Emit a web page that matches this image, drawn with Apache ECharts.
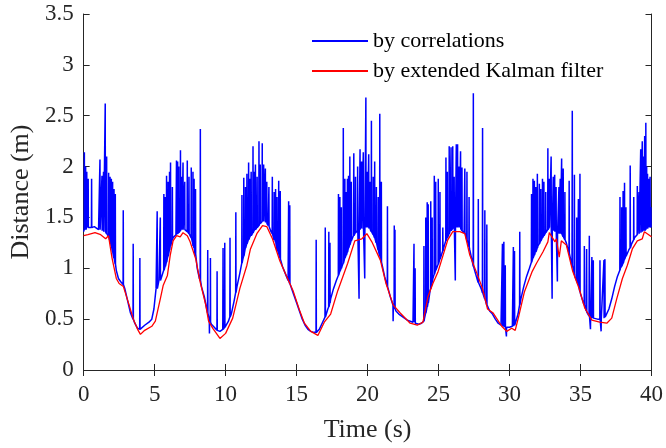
<!DOCTYPE html>
<html><head><meta charset="utf-8">
<script src="https://cdn.jsdelivr.net/npm/echarts@6/dist/echarts.min.js"></script>
<style>html,body{margin:0;padding:0;background:#fff}#c{width:666px;height:448px}</style>
</head><body><div id="c"></div>
<script>
const xTicks = [0,5,10,15,20,25,30,35,40];
const yTicks = [0,0.5,1,1.5,2,2.5,3,3.5];
const seriesNames = ['by correlations','by extended Kalman filter'];

// Kalman filter estimate [t, distance]
const redKF = [[0,1.32],[0.3,1.33],[0.8,1.35],[1.2,1.33],[1.55,1.29],[1.75,1.32],[2.0,1.10],[2.3,0.90],[2.5,0.85],[2.8,0.82],[3.2,0.64],[3.5,0.50],[3.8,0.40],[4.0,0.35],[4.3,0.39],[4.8,0.43],[5.05,0.48],[5.4,0.70],[5.6,0.83],[5.9,0.93],[6.1,1.13],[6.3,1.27],[6.55,1.32],[6.8,1.31],[7.0,1.35],[7.3,1.32],[7.5,1.26],[7.9,1.09],[8.2,0.87],[8.6,0.64],[8.8,0.48],[9.1,0.41],[9.6,0.31],[10.0,0.36],[10.5,0.51],[11.0,0.80],[11.5,1.03],[11.75,1.19],[12.2,1.34],[12.6,1.42],[12.9,1.41],[13.3,1.29],[13.8,1.08],[14.3,0.92],[14.75,0.78],[15.2,0.59],[15.55,0.46],[16.0,0.38],[16.5,0.34],[16.95,0.47],[17.4,0.55],[17.9,0.78],[18.6,1.05],[19.1,1.27],[19.6,1.29],[19.95,1.34],[20.3,1.26],[20.9,1.08],[21.3,0.85],[21.8,0.64],[22.3,0.56],[23.0,0.46],[23.5,0.44],[23.9,0.47],[24.25,0.72],[24.6,0.85],[24.95,0.96],[25.3,1.12],[25.65,1.28],[26.0,1.36],[26.5,1.36],[26.85,1.34],[27.2,1.13],[27.7,0.95],[28.1,0.80],[28.45,0.60],[28.85,0.56],[29.45,0.43],[29.8,0.38],[30.15,0.41],[30.4,0.39],[30.65,0.53],[31.05,0.77],[31.6,0.97],[31.9,1.05],[32.35,1.16],[32.7,1.26],[32.8,1.35],[33.2,1.26],[33.3,1.29],[33.5,1.11],[33.65,1.27],[34.0,1.23],[34.45,0.97],[34.9,0.80],[35.3,0.61],[35.8,0.49],[36.35,0.47],[36.85,0.46],[37.2,0.51],[37.55,0.70],[37.95,0.90],[38.3,1.03],[38.65,1.19],[39.0,1.27],[39.35,1.29],[39.5,1.36],[40.0,1.31]];

// Correlation estimate: underlying level [t, distance]
const blueBase = [[0,1.36],[0.4,1.40],[0.75,1.41],[1.05,1.38],[1.45,1.36],[1.7,1.33],[1.9,1.25],[2.1,1.12],[2.3,0.98],[2.45,0.90],[2.6,0.87],[2.9,0.80],[3.1,0.68],[3.3,0.56],[3.6,0.46],[3.8,0.41],[4.1,0.41],[4.3,0.44],[4.6,0.47],[4.8,0.50],[4.95,0.60],[5.1,0.80],[5.3,0.88],[5.5,0.92],[5.7,1.00],[5.9,1.10],[6.1,1.22],[6.3,1.30],[6.5,1.33],[6.7,1.36],[6.9,1.38],[7.1,1.38],[7.3,1.36],[7.5,1.32],[7.7,1.22],[7.85,1.12],[8.0,1.00],[8.15,0.90],[8.3,0.82],[8.5,0.72],[8.7,0.58],[8.85,0.48],[9.0,0.45],[9.2,0.42],[9.4,0.39],[9.6,0.38],[9.8,0.40],[10.0,0.43],[10.2,0.48],[10.4,0.55],[10.6,0.68],[10.8,0.82],[11.0,0.95],[11.2,1.08],[11.4,1.20],[11.6,1.28],[11.8,1.32],[12.0,1.37],[12.2,1.40],[12.4,1.44],[12.6,1.46],[12.8,1.45],[13.0,1.42],[13.2,1.36],[13.4,1.28],[13.6,1.18],[13.8,1.10],[14.0,1.02],[14.2,0.95],[14.4,0.88],[14.6,0.82],[14.8,0.74],[15.0,0.66],[15.2,0.58],[15.4,0.50],[15.6,0.44],[15.8,0.40],[16.0,0.38],[16.2,0.37],[16.4,0.38],[16.6,0.40],[16.8,0.46],[17.0,0.52],[17.2,0.60],[17.4,0.70],[17.6,0.80],[17.8,0.88],[18.0,0.95],[18.2,1.02],[18.4,1.10],[18.6,1.17],[18.8,1.25],[19.0,1.32],[19.2,1.36],[19.4,1.38],[19.6,1.40],[19.8,1.40],[20.0,1.40],[20.2,1.38],[20.4,1.33],[20.6,1.25],[20.8,1.15],[21.0,1.05],[21.2,0.92],[21.4,0.82],[21.6,0.72],[21.8,0.64],[22.0,0.58],[22.2,0.55],[22.4,0.53],[22.6,0.51],[22.8,0.49],[23.0,0.48],[23.2,0.47],[23.4,0.46],[23.6,0.45],[23.8,0.46],[24.0,0.50],[24.2,0.62],[24.4,0.78],[24.6,0.90],[24.8,0.98],[25.0,1.05],[25.2,1.13],[25.4,1.22],[25.6,1.30],[25.8,1.36],[26.0,1.39],[26.2,1.40],[26.4,1.40],[26.6,1.38],[26.8,1.35],[27.0,1.28],[27.2,1.18],[27.4,1.05],[27.6,0.95],[27.8,0.86],[28.0,0.80],[28.2,0.72],[28.4,0.64],[28.6,0.58],[28.8,0.55],[29.0,0.50],[29.2,0.46],[29.4,0.44],[29.6,0.42],[29.8,0.42],[30.0,0.42],[30.2,0.43],[30.4,0.45],[30.6,0.55],[30.8,0.70],[31.0,0.82],[31.2,0.92],[31.4,1.00],[31.6,1.08],[31.8,1.15],[32.0,1.22],[32.2,1.27],[32.4,1.32],[32.6,1.36],[32.8,1.40],[33.0,1.38],[33.2,1.36],[33.4,1.34],[33.6,1.34],[33.8,1.30],[34.0,1.25],[34.2,1.15],[34.4,1.02],[34.6,0.92],[34.8,0.85],[35.0,0.75],[35.2,0.66],[35.4,0.58],[35.6,0.53],[35.8,0.51],[36.0,0.50],[36.2,0.50],[36.4,0.50],[36.6,0.51],[36.8,0.54],[37.0,0.60],[37.2,0.70],[37.4,0.82],[37.6,0.92],[37.8,1.00],[38.0,1.06],[38.2,1.12],[38.4,1.18],[38.6,1.24],[38.8,1.30],[39.0,1.33],[39.2,1.35],[39.4,1.37],[39.6,1.39],[39.8,1.40],[40.0,1.40]];

// Correlation outliers: [t, spike value, level at spike foot]
const blueSpikes = [[0.05,2.14,1.38],[0.14,2.00,1.38],[0.22,1.95,1.40],[0.32,1.88,1.40],[0.56,1.88,1.40],[1.15,2.07,1.38],[1.29,1.91,1.37],[1.40,1.95,1.36],[1.52,2.62,1.36],[1.62,2.10,1.34],[1.76,1.94,1.31],[1.86,1.90,1.27],[1.95,1.88,1.22],[2.04,1.85,1.16],[2.14,1.78,1.10],[2.23,1.73,1.04],[2.79,1.57,0.84],[3.49,1.24,0.50],[3.96,1.10,0.40],
[5.18,1.56,0.80],[5.40,1.50,0.88],[5.65,1.73,0.98],[5.75,1.70,1.02],[5.84,1.91,1.06],[5.95,1.85,1.12],[6.05,1.95,1.18],[6.12,2.04,1.22],[6.25,1.80,1.28],[6.54,2.06,1.33],[6.62,2.05,1.34],[6.70,2.00,1.35],[6.82,2.16,1.37],[6.92,1.90,1.38],[7.00,2.04,1.38],[7.12,1.85,1.38],[7.30,2.06,1.36],[7.42,1.90,1.34],[7.58,1.99,1.30],[7.70,1.95,1.24],[7.78,1.88,1.20],[7.88,1.78,1.14],[8.22,2.37,0.88],[8.74,1.18,0.56],[8.86,0.36,0.50],[8.93,1.10,0.47],[9.40,0.97,0.39],[9.82,1.20,0.40],[9.94,1.25,0.42],[10.31,1.30,0.52],[10.72,1.55,0.76],[11.15,1.72,1.05],[11.28,1.89,1.12],[11.40,1.80,1.20],[11.50,1.93,1.24],[11.62,2.04,1.28],[11.72,1.88,1.31],[11.80,1.95,1.32],[11.93,2.20,1.35],[12.02,1.95,1.37],[12.10,2.02,1.38],[12.22,1.90,1.40],[12.35,2.25,1.42],[12.44,2.02,1.44],[12.58,2.23,1.46],[12.68,2.02,1.46],[12.80,1.98,1.45],[12.90,1.85,1.44],[13.05,1.80,1.41],[13.29,1.90,1.34],[13.42,1.75,1.30],[13.52,1.78,1.26],[13.62,1.70,1.20],[13.74,1.86,1.14],[13.85,1.76,1.09],[14.44,1.66,0.88],[14.52,1.62,0.85],
[16.38,1.28,0.37],[17.02,1.40,0.52],[17.27,1.36,0.62],[17.35,1.25,0.66],[17.95,1.73,0.93],[18.05,1.70,0.97],[18.15,1.60,1.00],[18.29,2.38,1.05],[18.40,1.88,1.10],[18.50,1.75,1.13],[18.58,1.88,1.16],[18.66,1.91,1.20],[18.75,2.10,1.23],[18.85,1.85,1.27],[19.03,2.13,1.32],[19.15,1.90,1.35],[19.30,2.00,1.37],[19.40,0.70,1.38],[19.47,2.17,1.38],[19.58,2.05,1.39],[19.70,2.14,1.40],[19.80,0.90,1.40],[19.88,2.68,1.40],[19.98,1.95,1.40],[20.08,2.12,1.39],[20.18,1.85,1.38],[20.27,2.45,1.36],[20.40,1.90,1.33],[20.50,2.05,1.30],[20.62,1.80,1.25],[20.75,1.70,1.18],[20.86,2.52,1.12],[20.97,1.85,1.06],[21.40,1.61,0.82],[21.80,0.48,0.64],[21.88,1.42,0.62],[21.93,1.38,0.60],
[23.27,1.24,0.47],[23.35,1.00,0.46],[23.97,1.22,0.48],[24.10,1.50,0.56],[24.20,1.65,0.62],[24.27,1.63,0.66],[24.45,1.66,0.80],[24.55,1.50,0.86],[24.70,1.91,0.94],[24.80,1.85,0.98],[24.98,1.88,1.04],[25.10,1.75,1.09],[25.30,1.40,1.17],[25.52,2.09,1.27],[25.62,1.95,1.30],[25.75,2.20,1.34],[25.88,2.19,1.37],[26.00,2.20,1.39],[26.10,1.90,1.40],[26.18,0.88,1.40],[26.25,2.22,1.40],[26.34,2.22,1.40],[26.45,2.00,1.40],[26.55,2.15,1.39],[26.65,1.99,1.37],[26.85,1.98,1.35],[27.00,1.95,1.28],[27.15,1.70,1.21],[27.45,2.72,1.02],[27.80,1.68,0.86],[28.10,2.38,0.76],[28.26,1.57,0.70],[28.40,1.43,0.64],
[29.50,1.24,0.43],[29.60,1.26,0.42],[29.70,1.03,0.42],[29.78,0.33,0.42],[30.27,1.21,0.43],[30.35,1.17,0.44],[30.72,1.36,0.64],
[31.55,1.73,1.06],[31.65,1.88,1.10],[31.75,1.86,1.13],[31.85,1.80,1.16],[31.96,1.93,1.20],[32.10,1.83,1.24],[32.20,1.78,1.27],[32.32,1.88,1.30],[32.42,1.85,1.32],[32.55,1.75,1.35],[32.70,2.18,1.38],[32.80,1.88,1.40],[32.93,2.10,1.39],[33.00,0.70,1.38],[33.08,1.90,1.37],[33.18,1.92,1.36],[33.28,1.80,1.35],[33.37,0.87,1.34],[33.48,1.80,1.34],[33.57,1.88,1.34],[33.67,2.08,1.34],[33.78,1.98,1.31],[33.90,1.75,1.28],[34.20,1.86,1.15],[34.42,2.55,1.03],[34.57,1.92,0.94],[34.73,1.50,0.88],[34.85,1.68,0.84],[34.96,1.93,0.77],
[35.27,1.22,0.64],[35.43,1.19,0.57],[35.62,1.32,0.53],[35.70,0.40,0.52],[35.80,1.11,0.51],[35.90,1.08,0.51],[36.37,1.08,0.50],[36.45,0.38,0.50],[36.65,1.08,0.51],[36.72,1.09,0.52],
[37.78,1.70,0.98],[37.90,1.60,1.02],[38.00,1.76,1.05],[38.10,1.84,1.09],[38.20,1.60,1.12],[38.50,2.01,1.20],[38.75,1.70,1.28],[39.00,1.81,1.33],[39.12,1.75,1.34],[39.24,2.17,1.35],[39.35,2.25,1.36],[39.45,2.10,1.37],[39.52,2.30,1.37],[39.60,2.43,1.38],[39.66,2.00,1.39],[39.72,1.93,1.39],[39.82,1.88,1.40],[39.90,1.90,1.40],[39.96,1.60,1.40]];

// combine level points and outlier samples in time order
const bluePts = blueBase.map(p => [p[0], p[1]]);
blueSpikes.forEach(s => {
  bluePts.push([s[0] - 0.012, s[2]]);
  bluePts.push([s[0], s[1]]);
  bluePts.push([s[0] + 0.012, s[2]]);
});
bluePts.sort((a, b) => a[0] - b[0]);

const FONT = '"Liberation Serif","Times New Roman",serif';
const AX = '#262626';
const chart = echarts.init(document.getElementById('c'), null, {renderer: 'canvas'});
const baseAxisX = {
  type: 'value', min: 0, max: 40, interval: 5,
  axisLine: {show: true, lineStyle: {color: AX, width: 1}},
  axisTick: {show: true, inside: true, length: 6, lineStyle: {color: AX}},
  splitLine: {show: false}
};
const baseAxisY = {
  type: 'value', min: 0, max: 3.5, interval: 0.5,
  axisLine: {show: true, onZero: false, lineStyle: {color: AX, width: 1}},
  axisTick: {show: true, inside: true, length: 6, lineStyle: {color: AX}},
  splitLine: {show: false}
};
chart.setOption({
  animation: false,
  backgroundColor: '#fff',
  grid: {left: 83, right: 14, top: 14, bottom: 76, containLabel: false},
  legend: {
    orient: 'vertical', left: 312, top: 29, padding: 0,
    itemWidth: 56, itemHeight: 2, itemGap: 6, icon: 'rect',
    textStyle: {fontFamily: FONT, fontSize: 22, color: '#000', lineHeight: 24},
    data: seriesNames
  },
  xAxis: [
    Object.assign({}, baseAxisX, {
      position: 'bottom',
      axisLabel: {show: true, margin: 13, fontFamily: FONT, fontSize: 23, color: AX},
      name: 'Time (s)', nameLocation: 'middle', nameGap: 47,
      nameTextStyle: {fontFamily: FONT, fontSize: 26, color: AX}
    }),
    Object.assign({}, baseAxisX, {position: 'top', axisLabel: {show: false}})
  ],
  yAxis: [
    Object.assign({}, baseAxisY, {
      position: 'left',
      axisLabel: {show: true, margin: 10, fontFamily: FONT, fontSize: 23, color: AX},
      name: 'Distance (m)', nameLocation: 'middle', nameGap: 46, nameRotate: 90,
      nameTextStyle: {fontFamily: FONT, fontSize: 26, color: AX}
    }),
    Object.assign({}, baseAxisY, {position: 'right', axisLabel: {show: false}})
  ],
  series: [
    {
      name: seriesNames[0], type: 'line', data: bluePts, showSymbol: false, symbol: 'none',
      lineStyle: {color: '#0000ff', width: 1.5}, itemStyle: {color: '#0000ff'},
      sampling: false, clip: true, z: 2
    },
    {
      name: seriesNames[1], type: 'line', data: redKF, showSymbol: false, symbol: 'none',
      lineStyle: {color: '#ff0000', width: 1.3}, itemStyle: {color: '#ff0000'},
      clip: true, z: 3
    }
  ]
});
</script></body></html>
